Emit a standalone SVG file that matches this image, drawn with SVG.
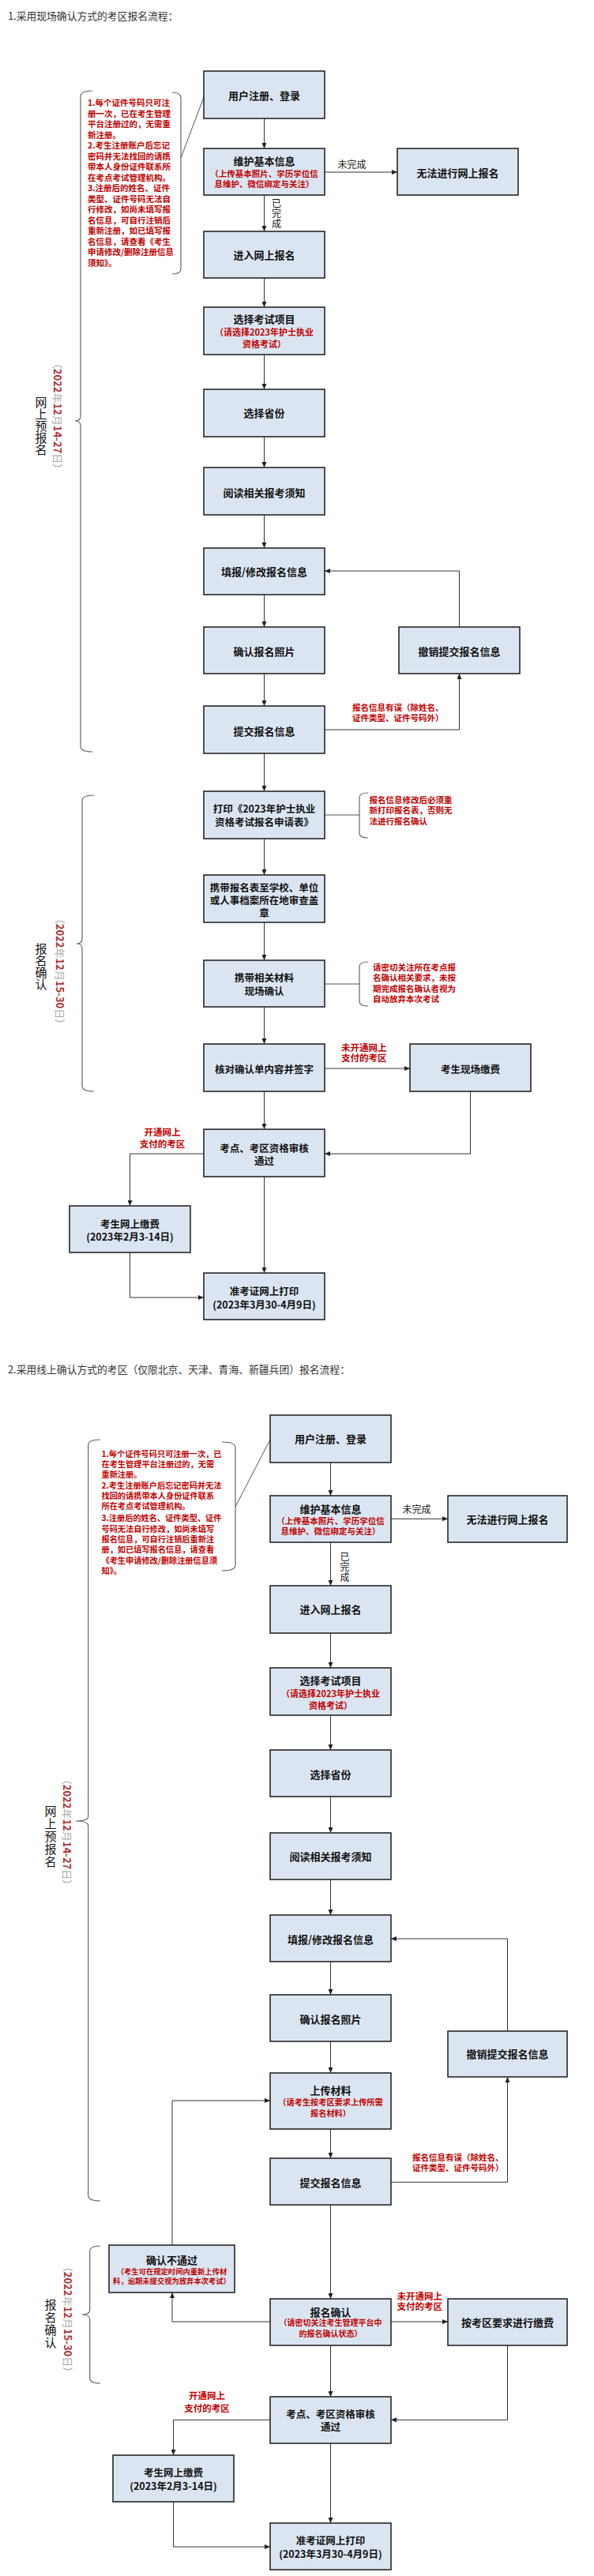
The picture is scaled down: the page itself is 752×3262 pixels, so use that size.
<svg xmlns="http://www.w3.org/2000/svg" width="752" height="3262" viewBox="0 0 752 3262">
<style>
text{font-family:"Noto Sans CJK SC","Noto Sans",sans-serif;dominant-baseline:central}
.bx{fill:#dbe5f1;stroke:#1a1a1a;stroke-width:1.5}
.t{font-size:13px;font-weight:700;fill:#111;text-anchor:middle}
.t2{font-size:12.5px;font-weight:700;fill:#111;text-anchor:middle}
.r{font-size:10.5px;font-weight:700;fill:#c00000;text-anchor:middle}
.rl{font-size:10.5px;font-weight:700;fill:#c00000}
.lb{font-size:12px;fill:#111;text-anchor:middle}
.vt{font-size:15px;fill:#111;text-anchor:middle}
.ttl{font-size:12.8px;fill:#333}
.c{fill:none;stroke:#333;stroke-width:1;marker-end:url(#ah)}
.n{fill:none;stroke:#555;stroke-width:1}
.br{fill:none;stroke:#666;stroke-width:1.2}
.rd{font-size:13px;font-weight:700;fill:#b03030}
.gy{font-size:13px;fill:#aaa}
</style>
<defs>
<marker id="ah" markerWidth="7" markerHeight="6" refX="7" refY="3" orient="auto" markerUnits="userSpaceOnUse"><path d="M0,0 L7,3 L0,6 z" fill="#222"/></marker>
</defs>
<rect width="752" height="3262" fill="#fff"/>

<!-- ===== Section 1 ===== -->
<text class="ttl" x="10" y="19">1.采用现场确认方式的考区报名流程：</text>

<g id="braces1">
<path class="br" d="M117 115 Q102 115 102 122 V527 Q102 533 95 533 Q102 533 102 539 V945 Q102 952 117 952"/>
<path class="br" d="M218 117 Q229 117 229 124 V340 Q229 347 218 347"/>
<path class="br" d="M119 1007 Q104 1007 104 1014 V1189 Q104 1195 97 1195 Q104 1195 104 1201 V1375 Q104 1382 119 1382"/>
<path class="br" d="M466 1004 Q455 1004 455 1010 V1055 Q455 1061 466 1061"/>
<path class="br" d="M466 1218 Q455 1218 455 1224 V1268 Q455 1274 466 1274"/>
</g>

<g id="labels1">
<text class="vt" x="52" y="508">网</text>
<text class="vt" x="52" y="523">上</text>
<text class="vt" x="52" y="538">预</text>
<text class="vt" x="52" y="553">报</text>
<text class="vt" x="52" y="568">名</text>
<text transform="translate(74,527) rotate(90)" text-anchor="middle"><tspan class="gy">（</tspan><tspan class="rd">2022</tspan><tspan class="gy">年</tspan><tspan class="rd">12</tspan><tspan class="gy">月</tspan><tspan class="rd">14-27</tspan><tspan class="gy">日）</tspan></text>
<text class="vt" x="52" y="1200">报</text>
<text class="vt" x="52" y="1215">名</text>
<text class="vt" x="52" y="1230">确</text>
<text class="vt" x="52" y="1245">认</text>
<text transform="translate(77,1230) rotate(90)" text-anchor="middle"><tspan class="gy">（</tspan><tspan class="rd">2022</tspan><tspan class="gy">年</tspan><tspan class="rd">12</tspan><tspan class="gy">月</tspan><tspan class="rd">15-30</tspan><tspan class="gy">日）</tspan></text>
</g>

<g id="note1">
<text class="rl" x="111" y="129.5">1.每个证件号码只可注</text>
<text class="rl" x="111" y="143">册一次，已在考生管理</text>
<text class="rl" x="111" y="156.5">平台注册过的，无需重</text>
<text class="rl" x="111" y="170">新注册。</text>
<text class="rl" x="111" y="183.5">2.考生注册账户后忘记</text>
<text class="rl" x="111" y="197">密码并无法找回的请携</text>
<text class="rl" x="111" y="210.5">带本人身份证件联系所</text>
<text class="rl" x="111" y="224">在考点考试管理机构。</text>
<text class="rl" x="111" y="237.5">3.注册后的姓名、证件</text>
<text class="rl" x="111" y="251">类型、证件号码无法自</text>
<text class="rl" x="111" y="264.5">行修改，如尚未填写报</text>
<text class="rl" x="111" y="278">名信息，可自行注销后</text>
<text class="rl" x="111" y="291.5">重新注册，如已填写报</text>
<text class="rl" x="111" y="305">名信息，请查看《考生</text>
<text class="rl" x="111" y="318.5">申请修改/删除注册信息</text>
<text class="rl" x="111" y="332">须知》。</text>
</g>

<g id="connectors1">
<path class="n" d="M229 200 L258 123"/>
<path class="c" d="M334.5 150 V188"/>
<path class="c" d="M411 218 H503"/>
<path class="c" d="M334.5 247 V293"/>
<path class="c" d="M334.5 352 V389"/>
<path class="c" d="M334.5 449 V493"/>
<path class="c" d="M334.5 553 V592"/>
<path class="c" d="M334.5 652 V694"/>
<path class="c" d="M334.5 753 V794"/>
<path class="c" d="M334.5 853 V894"/>
<path class="c" d="M411 924 H581.5 V853"/>
<path class="c" d="M581.5 794 V723 H411"/>
<path class="c" d="M334.5 954 V1002"/>
<path class="n" d="M411 1032 H455"/>
<path class="c" d="M334.5 1062 V1108"/>
<path class="c" d="M334.5 1168 V1216"/>
<path class="n" d="M411 1246 H455"/>
<path class="c" d="M334.5 1275 V1322"/>
<path class="c" d="M411 1353 H519"/>
<path class="c" d="M334.5 1382 V1430"/>
<path class="c" d="M595.5 1382 V1461 H411"/>
<path class="c" d="M258 1461 H164.5 V1527"/>
<path class="c" d="M334.5 1490 V1612"/>
<path class="c" d="M164.5 1586 V1643 H258"/>
<text class="lb" x="445.5" y="207">未完成</text>
<text class="lb" x="350" y="256">已</text>
<text class="lb" x="350" y="269">完</text>
<text class="lb" x="350" y="282">成</text>
<text class="rl" x="446" y="895">报名信息有误（除姓名、</text>
<text class="rl" x="446" y="908">证件类型、证件号码外）</text>
<text class="rl" x="467.5" y="1012">报名信息修改后必须重</text>
<text class="rl" x="467.5" y="1025.5">新打印报名表，否则无</text>
<text class="rl" x="467.5" y="1039">法进行报名确认</text>
<text class="rl" x="472" y="1224">请密切关注所在考点报</text>
<text class="rl" x="472" y="1237.5">名确认相关要求，未按</text>
<text class="rl" x="472" y="1251">期完成报名确认者视为</text>
<text class="rl" x="472" y="1264.5">自动放弃本次考试</text>
<text class="rl" x="432" y="1326" style="font-size:11.5px">未开通网上</text>
<text class="rl" x="432" y="1339" style="font-size:11.5px">支付的考区</text>
<text class="r" x="205.5" y="1433" style="font-size:11.5px">开通网上</text>
<text class="r" x="205.5" y="1448" style="font-size:11.5px">支付的考区</text>
</g>

<g id="b1"><rect class="bx" x="258" y="90" width="153" height="60"/><text class="t" x="334.5" y="120">用户注册、登录</text></g>
<g id="b2"><rect class="bx" x="258" y="188" width="153" height="59"/><text class="t" x="334.5" y="203">维护基本信息</text><text class="r" x="334.5" y="219">（上传基本照片、学历学位信</text><text class="r" x="334.5" y="232">息维护、微信绑定与关注）</text></g>
<g id="b3"><rect class="bx" x="503" y="188" width="153" height="59"/><text class="t" x="579.5" y="218">无法进行网上报名</text></g>
<g id="b4"><rect class="bx" x="258" y="293" width="153" height="59"/><text class="t" x="334.5" y="322.5">进入网上报名</text></g>
<g id="b5"><rect class="bx" x="258" y="389" width="153" height="60"/><text class="t" x="334.5" y="403">选择考试项目</text><text class="r" x="334.5" y="420" style="font-size:11px">（请选择2023年护士执业</text><text class="r" x="334.5" y="435" style="font-size:11px">资格考试）</text></g>
<g id="b6"><rect class="bx" x="258" y="493" width="153" height="60"/><text class="t" x="334.5" y="522">选择省份</text></g>
<g id="b7"><rect class="bx" x="258" y="592" width="153" height="60"/><text class="t" x="334.5" y="623">阅读相关报考须知</text></g>
<g id="b8"><rect class="bx" x="258" y="694" width="153" height="59"/><text class="t" x="334.5" y="723">填报/修改报名信息</text></g>
<g id="b9"><rect class="bx" x="258" y="794" width="153" height="59"/><text class="t" x="334.5" y="824">确认报名照片</text></g>
<g id="b10"><rect class="bx" x="505" y="794" width="153" height="59"/><text class="t" x="581.5" y="824">撤销提交报名信息</text></g>
<g id="b11"><rect class="bx" x="258" y="894" width="153" height="60"/><text class="t" x="334.5" y="925">提交报名信息</text></g>
<g id="b12"><rect class="bx" x="258" y="1002" width="153" height="60"/><text class="t2" x="334.5" y="1023">打印《2023年护士执业</text><text class="t2" x="334.5" y="1040">资格考试报名申请表》</text></g>
<g id="b13"><rect class="bx" x="258" y="1108" width="153" height="60"/><text class="t2" x="334.5" y="1123">携带报名表至学校、单位</text><text class="t2" x="334.5" y="1139">或人事档案所在地审查盖</text><text class="t2" x="334.5" y="1155">章</text></g>
<g id="b14"><rect class="bx" x="258" y="1216" width="153" height="59"/><text class="t2" x="334.5" y="1237">携带相关材料</text><text class="t2" x="334.5" y="1254">现场确认</text></g>
<g id="b15"><rect class="bx" x="258" y="1322" width="153" height="60"/><text class="t2" x="334.5" y="1353">核对确认单内容并签字</text></g>
<g id="b16"><rect class="bx" x="519" y="1322" width="153" height="60"/><text class="t2" x="595.5" y="1353">考生现场缴费</text></g>
<g id="b17"><rect class="bx" x="258" y="1430" width="153" height="60"/><text class="t2" x="334.5" y="1453">考点、考区资格审核</text><text class="t2" x="334.5" y="1469">通过</text></g>
<g id="b18"><rect class="bx" x="88" y="1527" width="153" height="59"/><text class="t2" x="164.5" y="1549">考生网上缴费</text><text class="t2" x="164.5" y="1565">(2023年2月3-14日)</text></g>
<g id="b19"><rect class="bx" x="258" y="1612" width="153" height="59"/><text class="t2" x="334.5" y="1634">准考证网上打印</text><text class="t2" x="334.5" y="1651">(2023年3月30-4月9日)</text></g>

<!-- ===== Section 2 ===== -->
<text class="ttl" x="10" y="1733">2.采用线上确认方式的考区（仅限北京、天津、青海、新疆兵团）报名流程：</text>

<g id="braces2">
<path class="br" d="M127 1823 Q111.7 1823 111.7 1830 V2300 Q111.7 2306 96 2306 Q111.7 2306 111.7 2312 V2780 Q111.7 2787 127 2787"/>
<path class="br" d="M281 1826 Q298 1826 298 1833 V1982 Q298 1989 281 1989"/>
<path class="br" d="M127 2844 Q113.7 2844 113.7 2851 V2925 Q113.7 2931 104 2931 Q113.7 2931 113.7 2937 V3011 Q113.7 3018 127 3018"/>
</g>

<g id="labels2">
<text class="vt" x="64" y="2292">网</text>
<text class="vt" x="64" y="2308">上</text>
<text class="vt" x="64" y="2324">预</text>
<text class="vt" x="64" y="2340">报</text>
<text class="vt" x="64" y="2356">名</text>
<text transform="translate(85.5,2320) rotate(90)" text-anchor="middle"><tspan class="gy">（</tspan><tspan class="rd">2022</tspan><tspan class="gy">年</tspan><tspan class="rd">12</tspan><tspan class="gy">月</tspan><tspan class="rd">14-27</tspan><tspan class="gy">日）</tspan></text>
<text class="vt" x="64" y="2917">报</text>
<text class="vt" x="64" y="2933">名</text>
<text class="vt" x="64" y="2949">确</text>
<text class="vt" x="64" y="2965">认</text>
<text transform="translate(86.5,2937) rotate(90)" text-anchor="middle"><tspan class="gy">（</tspan><tspan class="rd">2022</tspan><tspan class="gy">年</tspan><tspan class="rd">12</tspan><tspan class="gy">月</tspan><tspan class="rd">15-30</tspan><tspan class="gy">日）</tspan></text>
</g>

<g id="note2" style="font-size:10.2px">
<text class="rl" x="128.5" y="1840" style="font-size:10.2px">1.每个证件号码只可注册一次，已</text>
<text class="rl" x="128.5" y="1853.3" style="font-size:10.2px">在考生管理平台注册过的，无需</text>
<text class="rl" x="128.5" y="1866.7" style="font-size:10.2px">重新注册。</text>
<text class="rl" x="128.5" y="1880" style="font-size:10.2px">2.考生注册账户后忘记密码并无法</text>
<text class="rl" x="128.5" y="1893.3" style="font-size:10.2px">找回的请携带本人身份证件联系</text>
<text class="rl" x="128.5" y="1906.7" style="font-size:10.2px">所在考点考试管理机构。</text>
<text class="rl" x="128.5" y="1921.7" style="font-size:10.2px">3.注册后的姓名、证件类型、证件</text>
<text class="rl" x="128.5" y="1935" style="font-size:10.2px">号码无法自行修改，如尚未填写</text>
<text class="rl" x="128.5" y="1948.3" style="font-size:10.2px">报名信息，可自行注销后重新注</text>
<text class="rl" x="128.5" y="1961.7" style="font-size:10.2px">册，如已填写报名信息，请查看</text>
<text class="rl" x="128.5" y="1975" style="font-size:10.2px">《考生申请修改/删除注册信息须</text>
<text class="rl" x="128.5" y="1988.3" style="font-size:10.2px">知》。</text>
</g>

<g id="connectors2">
<path class="n" d="M298 1908 L342 1823"/>
<path class="c" d="M418.5 1852 V1894"/>
<path class="c" d="M495 1923.3 H567"/>
<path class="c" d="M418.5 1953 V2008"/>
<path class="c" d="M418.5 2068 V2112"/>
<path class="c" d="M418.5 2172 V2216"/>
<path class="c" d="M418.5 2275 V2321"/>
<path class="c" d="M418.5 2380 V2425"/>
<path class="c" d="M418.5 2484 V2526"/>
<path class="c" d="M418.5 2585 V2625"/>
<path class="c" d="M418.5 2696 V2733"/>
<path class="c" d="M495 2763.3 H642.5 V2630"/>
<path class="c" d="M642.5 2572 V2455 H495"/>
<path class="c" d="M218 2843 V2660 H342"/>
<path class="c" d="M418.5 2792 V2911"/>
<path class="c" d="M342 2940 H218 V2903"/>
<path class="c" d="M495 2940 H567"/>
<path class="c" d="M418.5 2970 V3035"/>
<path class="c" d="M642.5 2970 V3064.3 H495"/>
<path class="c" d="M342 3064.3 H219.5 V3109"/>
<path class="c" d="M418.5 3094 V3195"/>
<path class="c" d="M219.5 3168 V3225 H342"/>
<text class="lb" x="527.5" y="1910">未完成</text>
<text class="lb" x="436.5" y="1970">已</text>
<text class="lb" x="436.5" y="1983">完</text>
<text class="lb" x="436.5" y="1996">成</text>
<text class="rl" x="522" y="2731.7">报名信息有误（除姓名、</text>
<text class="rl" x="522" y="2744.5">证件类型、证件号码外）</text>
<text class="rl" x="502.5" y="2906.7" style="font-size:11.5px">未开通网上</text>
<text class="rl" x="502.5" y="2920" style="font-size:11.5px">支付的考区</text>
<text class="r" x="262" y="3033.3" style="font-size:11.5px">开通网上</text>
<text class="r" x="262" y="3049" style="font-size:11.5px">支付的考区</text>
</g>

<g id="s1"><rect class="bx" x="342" y="1792" width="153" height="60"/><text class="t" x="418.5" y="1821.7">用户注册、登录</text></g>
<g id="s2"><rect class="bx" x="342" y="1894" width="153" height="59"/><text class="t" x="418.5" y="1910.7">维护基本信息</text><text class="r" x="418.5" y="1925">（上传基本照片、学历学位信</text><text class="r" x="418.5" y="1938">息维护、微信绑定与关注）</text></g>
<g id="s3"><rect class="bx" x="567" y="1894" width="151" height="59"/><text class="t" x="642.5" y="1923">无法进行网上报名</text></g>
<g id="s4"><rect class="bx" x="342" y="2008" width="153" height="60"/><text class="t" x="418.5" y="2037.7">进入网上报名</text></g>
<g id="s5"><rect class="bx" x="342" y="2112" width="153" height="60"/><text class="t" x="418.5" y="2127">选择考试项目</text><text class="r" x="418.5" y="2144" style="font-size:11px">（请选择2023年护士执业</text><text class="r" x="418.5" y="2159" style="font-size:11px">资格考试）</text></g>
<g id="s6"><rect class="bx" x="342" y="2216" width="153" height="59"/><text class="t" x="418.5" y="2246">选择省份</text></g>
<g id="s7"><rect class="bx" x="342" y="2321" width="153" height="59"/><text class="t" x="418.5" y="2350.7">阅读相关报考须知</text></g>
<g id="s8"><rect class="bx" x="342" y="2425" width="153" height="59"/><text class="t" x="418.5" y="2455">填报/修改报名信息</text></g>
<g id="s9"><rect class="bx" x="342" y="2526" width="153" height="59"/><text class="t" x="418.5" y="2556">确认报名照片</text></g>
<g id="s10"><rect class="bx" x="567" y="2572" width="151" height="58"/><text class="t" x="642.5" y="2600.7">撤销提交报名信息</text></g>
<g id="s11"><rect class="bx" x="342" y="2625" width="153" height="71"/><text class="t" x="418.5" y="2646.7">上传材料</text><text class="r" x="418.5" y="2661" style="font-size:10.2px">（请考生按考区要求上传所需</text><text class="r" x="418.5" y="2675.7" style="font-size:10.2px">报名材料）</text></g>
<g id="s12"><rect class="bx" x="342" y="2733" width="153" height="59"/><text class="t" x="418.5" y="2763.3">提交报名信息</text></g>
<g id="s14"><rect class="bx" x="138" y="2843" width="159" height="60"/><text class="t" x="217.5" y="2861.7">确认不通过</text><text class="r" x="217.5" y="2875.7" style="font-size:9.3px">（考生可在规定时间内重新上传材</text><text class="r" x="217.5" y="2888.3" style="font-size:9.3px">料，逾期未提交视为放弃本次考试）</text></g>
<g id="s13"><rect class="bx" x="342" y="2911" width="153" height="59"/><text class="t" x="418.5" y="2927.7">报名确认</text><text class="r" x="418.5" y="2940.7" style="font-size:10px">（请密切关注考生管理平台中</text><text class="r" x="418.5" y="2954" style="font-size:10px">的报名确认状态）</text></g>
<g id="s15"><rect class="bx" x="567" y="2911" width="151" height="59"/><text class="t" x="642.5" y="2940">按考区要求进行缴费</text></g>
<g id="s16"><rect class="bx" x="342" y="3035" width="153" height="59"/><text class="t2" x="418.5" y="3056.7">考点、考区资格审核</text><text class="t2" x="418.5" y="3072.7">通过</text></g>
<g id="s17"><rect class="bx" x="143" y="3109" width="153" height="59"/><text class="t2" x="219.5" y="3130.7">考生网上缴费</text><text class="t2" x="219.5" y="3147.3">(2023年2月3-14日)</text></g>
<g id="s18"><rect class="bx" x="342" y="3195" width="153" height="59"/><text class="t2" x="418.5" y="3216.7">准考证网上打印</text><text class="t2" x="418.5" y="3233.3">(2023年3月30-4月9日)</text></g>
</svg>
